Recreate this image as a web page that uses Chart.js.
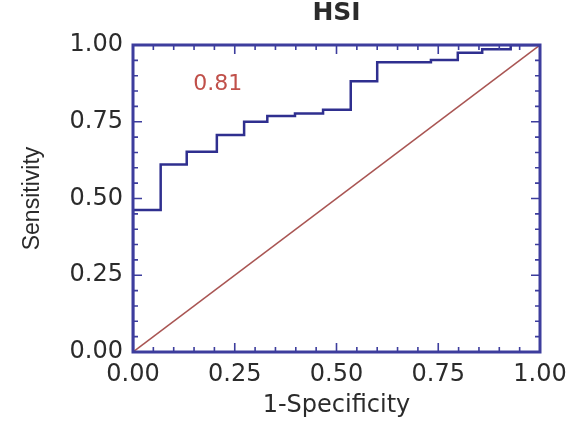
<!DOCTYPE html>
<html>
<head>
<meta charset="utf-8">
<script src="https://cdn.jsdelivr.net/npm/chart.js@4/dist/chart.umd.min.js"></script>
<style>
  html, body { margin: 0; padding: 0; background: #ffffff; }
  #wrap { width: 588px; height: 429px; }
</style>
</head>
<body>
<div id="wrap"><canvas id="roc" width="588" height="429"></canvas></div>
<script>
// ROC curve vertices (1-specificity, sensitivity)
const fpr = [0, 0, 0.068, 0.132, 0.206, 0.273, 0.330, 0.398, 0.467, 0.535, 0.600, 0.732, 0.798, 0.858, 0.928, 1.0];
const tpr = [0, 0.4625, 0.611, 0.652, 0.707, 0.750, 0.769, 0.777, 0.789, 0.882, 0.944, 0.951, 0.975, 0.986, 1.0, 1.0];
// chance line
const refX = [0, 1];
const refY = [0, 1];
const tickValues = [0, 0.25, 0.5, 0.75, 1];
const aucText = '0.81';
const chartTitle = 'HSI';

const FRAME = '#3d3d9d';
const TEXT = '#2b2b2b';
const WIDE = '"DejaVu Sans", Verdana, sans-serif';
const NARROW = '"Liberation Sans", Arial, Helvetica, sans-serif';

const toPoints = (xs, ys) => xs.map((x, i) => ({ x: x, y: ys[i] }));

// frame with inward major/minor ticks on all four sides, plus the AUC label
const framePlugin = {
  id: 'frame',
  afterDatasetsDraw(chart) {
    const { ctx, chartArea: a, scales: { x, y } } = chart;
    ctx.save();
    ctx.strokeStyle = FRAME;
    ctx.lineWidth = 1.6;
    for (let k = 0; k <= 20; k++) {
      const v = k / 20;
      const len = (k % 5 === 0) ? 9 : 5;
      const px = x.getPixelForValue(v);
      const py = y.getPixelForValue(v);
      ctx.beginPath();
      ctx.moveTo(px, a.bottom); ctx.lineTo(px, a.bottom - len);
      ctx.moveTo(px, a.top); ctx.lineTo(px, a.top + len);
      ctx.moveTo(a.left, py); ctx.lineTo(a.left + len, py);
      ctx.moveTo(a.right, py); ctx.lineTo(a.right - len, py);
      ctx.stroke();
    }
    ctx.lineWidth = 3;
    ctx.strokeRect(a.left, a.top, a.right - a.left, a.bottom - a.top);

    ctx.fillStyle = '#c0504a';
    ctx.font = '22px ' + WIDE;
    ctx.textAlign = 'center';
    ctx.textBaseline = 'middle';
    ctx.fillText(aucText, x.getPixelForValue(0.208), y.getPixelForValue(0.873));
    ctx.restore();
  }
};

new Chart(document.getElementById('roc'), {
  type: 'scatter',
  data: {
    datasets: [
      {
        data: toPoints(fpr, tpr),
        showLine: true,
        stepped: 'before',
        borderColor: '#2f2f8f',
        borderWidth: 2.5,
        pointRadius: 0,
        fill: false
      },
      {
        data: toPoints(refX, refY),
        showLine: true,
        borderColor: '#a95553',
        borderWidth: 1.5,
        pointRadius: 0,
        fill: false
      }
    ]
  },
  options: {
    responsive: false,
    animation: false,
    layout: { padding: { top: 0, right: 48, bottom: 0, left: 0 } },
    plugins: {
      legend: { display: false },
      tooltip: { enabled: false },
      title: {
        display: true,
        text: chartTitle,
        fullSize: false,
        color: TEXT,
        font: { family: WIDE, size: 25, weight: 'bold', lineHeight: 1 },
        padding: { top: 1, bottom: 19 }
      }
    },
    scales: {
      x: {
        type: 'linear',
        min: 0, max: 1,
        afterBuildTicks(s) { s.ticks = tickValues.map(v => ({ value: v })); },
        afterFit(s) { s.height = 77; },
        grid: { display: false, drawTicks: false },
        border: { display: false },
        ticks: {
          padding: 8,
          color: TEXT,
          font: { family: WIDE, size: 24 },
          callback: v => v.toFixed(2)
        },
        title: {
          display: true,
          text: '1-Specificity',
          color: TEXT,
          font: { family: WIDE, size: 24 },
          padding: { top: 0, bottom: 9 }
        }
      },
      y: {
        type: 'linear',
        min: 0, max: 1,
        afterBuildTicks(s) { s.ticks = tickValues.map(v => ({ value: v })); },
        afterFit(s) { s.width = 133; },
        grid: { display: false, drawTicks: false },
        border: { display: false },
        ticks: {
          padding: 10,
          color: TEXT,
          font: { family: WIDE, size: 24 },
          callback: v => v.toFixed(2)
        },
        title: {
          display: true,
          text: 'Sensitivity',
          color: TEXT,
          font: { family: NARROW, size: 23 },
          padding: { top: 19, bottom: 0 }
        }
      }
    }
  },
  plugins: [framePlugin]
});
</script>
</body>
</html>
